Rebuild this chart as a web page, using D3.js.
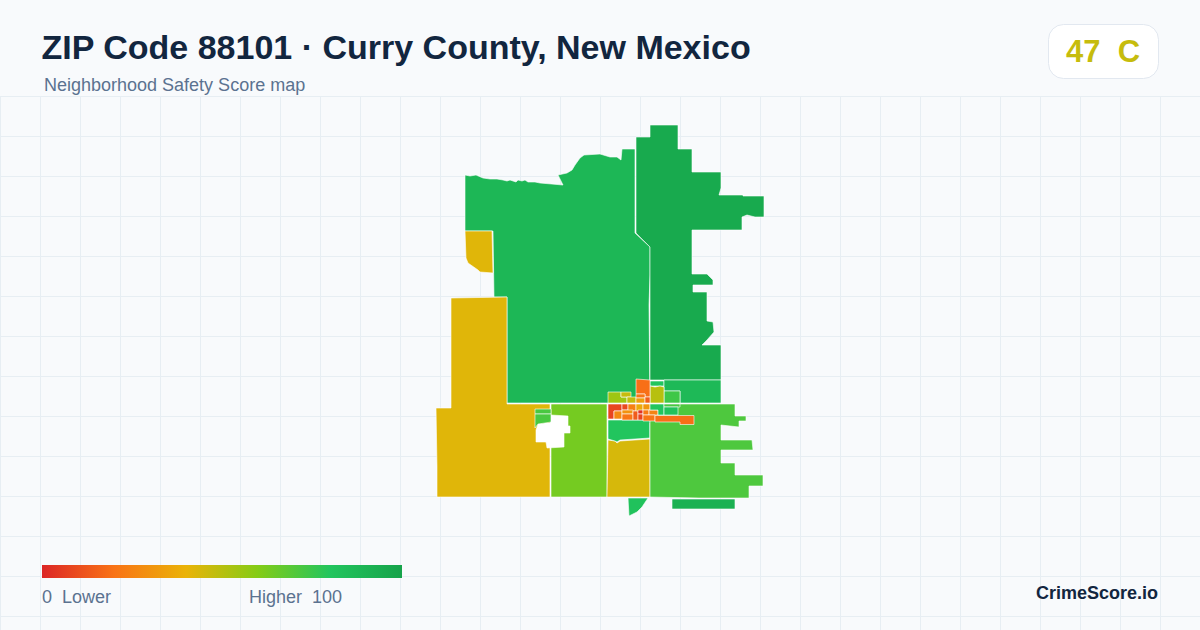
<!DOCTYPE html>
<html><head><meta charset="utf-8">
<script src="https://cdn.jsdelivr.net/npm/d3@7"></script>
<style>html,body{margin:0;padding:0;background:#f8fafc}svg{display:block}text{font-family:"Liberation Sans",Arial,sans-serif}</style>
</head><body><svg id="c" width="1200" height="630"></svg>
<script>
const titleText = "ZIP Code 88101 · Curry County, New Mexico";
const subtitleText = "Neighborhood Safety Score map";
const overallScore = 47;
const overallGrade = "C";
const legendStops = [0, 20, 40, 60, 80, 100];
const legendColors = ["#dc2626", "#f97316", "#eab308", "#84cc16", "#22c55e", "#16a34a"];

// Tract scores read from fill colours, one per outline below; null = no data area
const tractScores = [
  88, 96, 42, 42, 63, 44, 80, 53, 71,
  80, 87, 74, 50, 82, 92,
  null, 72, 72,
  55, 47, 48,
  19, 21, 33, 14,
  8, 27, 9, 24, 37, 31,
  30, 21, 14, 3, 8, 22, 25, 21, 19,
  80, 72, 82
];
// Tract outlines in survey grid units
const tractRings = [
  [[465,175],[470,176],[476,175],[483,178],[490,179],[497,179],[503,180],[507,181],[510,180],[516,182],[518,180],[522,181],[525,180],[528,182],[535,182],[540,183],[563,185],[558,175],[567,173],[572,170],[575,165],[580,158],[584,155],[600,154],[610,157],[617,157],[621,160],[622,149],[635,149],[635,233],[650,247],[650,275],[649,305],[650,403],[507,403],[507,297],[494,297],[493,231],[465,231]],
  [[636,137],[650,137],[650,125],[678,125],[678,149],[692,149],[692,172],[721,172],[721,188],[719,195],[743,195],[743,196],[764,196],[764,217],[755,217],[747,215],[742,217],[742,230],[692,230],[692,274],[707,274],[710,277],[713,280],[713,285],[693,285],[693,292],[707,292],[707,321],[713,322],[714,332],[707,340],[702,345],[721,345],[721,380],[650,380],[650,275],[650,247],[636,233]],
  [[465,231],[492,231],[493,273],[480,272],[478,270],[468,263],[466,258]],
  [[451,298],[507,297],[507,404],[550,404],[550,497],[437,497],[437,467],[436,408],[451,408]],
  [[551,404],[607,404],[607,497],[551,497]],
  [[608,440],[615,441],[617,443],[620,441],[650,439],[650,497],[607,497]],
  [[608,420],[650,420],[650,438],[620,440],[617,442],[615,441],[608,439]],
  [[650,423],[663,423],[663,427],[672,427],[672,438],[650,438]],
  [[650,404],[735,404],[735,416],[746,416],[746,421],[739,421],[739,427],[721,425],[721,440],[752,440],[753,450],[721,450],[721,463],[735,463],[735,475],[763,475],[763,486],[749,486],[749,498],[699,498],[650,497]],
  [[650,381],[664,381],[664,386],[650,386]],
  [[664,380],[721,380],[721,403],[680,403],[680,391],[664,391]],
  [[664,391],[680,391],[680,403],[664,403]],
  [[650,386],[655,387],[660,386],[664,387],[664,403],[650,403]],
  [[628,498],[648,498],[642,507],[637,512],[629,516]],
  [[672,499],[735,499],[735,509],[672,509]],
  [[551,415],[568,416],[568,426],[570,426],[570,433],[564,433],[564,447],[547,448],[546,442],[536,442],[536,430],[538,424],[545,423],[551,423]],
  [[535,409],[551,409],[551,414],[535,414]],
  [[535,414],[551,414],[551,422],[545,423],[538,424],[535,428]],
  [[608,392],[621,392],[621,397],[627,397],[627,403],[608,403]],
  [[621,392],[631,392],[631,397],[621,397]],
  [[627,397],[636,397],[636,403],[627,403]],
  [[636,379],[650,380],[650,397],[645,397],[645,394],[636,394]],
  [[636,394],[645,394],[645,398],[636,398]],
  [[636,398],[645,398],[645,403],[636,403]],
  [[645,397],[650,397],[650,403],[645,403]],
  [[608,404],[622,404],[622,411],[614,411],[614,419],[608,419]],
  [[614,411],[622,411],[622,419],[614,419]],
  [[622,404],[628,404],[628,410],[622,410]],
  [[628,404],[636,404],[636,411],[628,411]],
  [[636,404],[643,404],[643,412],[636,412]],
  [[643,404],[650,404],[650,410],[643,410]],
  [[622,410],[633,410],[633,414],[622,414]],
  [[622,414],[633,414],[633,420],[622,420]],
  [[633,411],[638,411],[638,420],[633,420]],
  [[638,410],[643,410],[643,414],[638,414]],
  [[638,414],[643,414],[643,420],[638,420]],
  [[643,410],[649,410],[649,415],[643,415]],
  [[649,410],[658,410],[658,415],[649,415]],
  [[643,415],[655,415],[655,421],[643,421]],
  [[655,415.5],[694,415.5],[694,424.5],[680,424.5],[680,422],[655,422]],
  [[650,404],[664,404],[664,415],[658,415],[658,410],[650,410]],
  [[664,404],[680,404],[680,407],[664,407]],
  [[664,407],[678,407],[678,415],[664,415]]
];
const gridStep = 40;

const W = 1200, H = 630, gridTop = 96;
const svg = d3.select("#c");
const color = d3.scaleLinear().domain(legendStops).range(legendColors).clamp(true);

svg.append("rect").attr("width", W).attr("height", H).attr("fill", "#f8fafc");
const grid = svg.append("g").attr("stroke", "#e7eef3").attr("stroke-width", 1);
grid.selectAll("line.v").data(d3.range(0, W, gridStep)).join("line")
  .attr("x1", d => d + .5).attr("x2", d => d + .5).attr("y1", gridTop).attr("y2", H);
grid.selectAll("line.h").data(d3.range(gridTop, H, gridStep)).join("line")
  .attr("y1", d => d + .5).attr("y2", d => d + .5).attr("x1", 0).attr("x2", W);

const features = tractRings.map((r, i) => ({
  type: "Feature", properties: { score: tractScores[i] },
  geometry: { type: "Polygon", coordinates: [r.concat([r[0]])] }
}));
const path = d3.geoPath(d3.geoIdentity());
svg.append("g").selectAll("path").data(features).join("path")
  .attr("d", path)
  .attr("fill", d => d.properties.score == null ? "#ffffff" : color(d.properties.score))
  .attr("stroke", "#ffffff").attr("stroke-width", 0.6).attr("stroke-linejoin", "miter");

svg.append("text").attr("x", 41.5).attr("y", 59).attr("font-size", 34).attr("font-weight", 700)
  .attr("fill", "#12263f").text(titleText);
svg.append("text").attr("x", 44).attr("y", 91).attr("font-size", 18)
  .attr("fill", "#5b7290").text(subtitleText);

svg.append("rect").attr("x", 1048.5).attr("y", 24.5).attr("width", 110).attr("height", 54).attr("rx", 15)
  .attr("fill", "#ffffff").attr("stroke", "#e2e8f0");
svg.append("text").attr("x", 1103).attr("y", 62).attr("text-anchor", "middle").attr("font-size", 31)
  .attr("font-weight", 700).attr("fill", color(overallScore))
  .style("white-space", "pre").text(overallScore + "  " + overallGrade);

const lx = d3.scaleLinear().domain([0, 100]).range([42, 402]);
const grad = svg.append("defs").append("linearGradient").attr("id", "lg");
grad.selectAll("stop").data(legendStops).join("stop")
  .attr("offset", d => d + "%").attr("stop-color", d => color(d));
svg.append("rect").attr("x", lx(0)).attr("y", 565).attr("width", lx(100) - lx(0)).attr("height", 13).attr("fill", "url(#lg)");
svg.append("text").attr("x", 42).attr("y", 603).attr("font-size", 18).attr("fill", "#5b7290")
  .style("white-space", "pre").text("0  Lower");
svg.append("text").attr("x", 249).attr("y", 603).attr("font-size", 18).attr("fill", "#5b7290")
  .style("white-space", "pre").text("Higher  100");
svg.append("text").attr("x", 1158).attr("y", 599).attr("text-anchor", "end").attr("font-size", 18)
  .attr("font-weight", 700).attr("fill", "#12263f").text("CrimeScore.io");
</script></body></html>
